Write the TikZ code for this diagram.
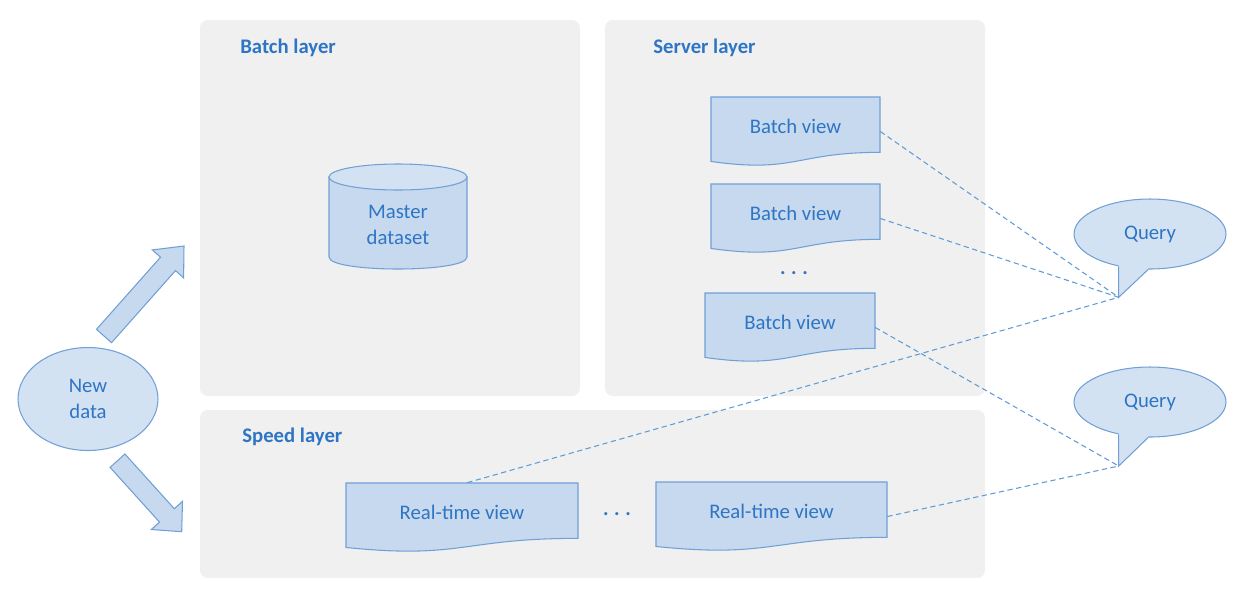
\documentclass[tikz,border=0pt]{standalone}
\usepackage{fontspec}
\setmainfont{Carlito}
\usetikzlibrary{shapes.geometric}
\definecolor{panelc}{RGB}{240,240,240}
\definecolor{boxfill}{RGB}{198,217,238}
\definecolor{callfill}{RGB}{211,226,242}
\definecolor{linec}{RGB}{112,160,214}
\definecolor{txtc}{RGB}{46,117,196}
\definecolor{dashc}{RGB}{95,155,215}
\def\pxl{0.5690551pt}
\tikzset{
  panel/.style={fill=panelc, rounded corners=4.5pt},
  docfill/.style={fill=boxfill, draw=linec, line width=0.6pt},
  txt/.style={text=txtc, font=\fontsize{11.8}{14.6}\selectfont, align=center, inner sep=0pt},
  ltxt/.style={text=txtc, font=\fontsize{11.8}{14.6}\selectfont\bfseries, anchor=west, inner sep=0pt},
  callout/.style={ellipse, fill=callfill, draw=linec, line width=0.6pt, text=txtc, align=center,
     font=\fontsize{11.8}{14.6}\selectfont, inner sep=0pt},
  dashline/.style={draw=dashc, line width=0.6pt, dash pattern=on 3pt off 2pt},
  blockarrow/.style={fill=boxfill, draw=linec, line width=0.6pt, line join=miter}
}
\newcommand\docview[6]{%
  \pgfmathsetmacro\dvr{#2+#4}%
  \pgfmathsetmacro\dvm{#2+0.5*#4}%
  \pgfmathsetmacro\dvyr{#3+0.802*#5}%
  \pgfmathsetmacro\dvyc{#3+1.1075*#5}%
  \pgfmathsetmacro\dvyl{#3+0.934*#5}%
  \pgfmathsetmacro\dvyt{#3+0.42*#5}%
  \pgfmathsetmacro\dvyn{#3+0.5*#5}%
  \filldraw[docfill] (#2,#3) -- (\dvr,#3) -- (\dvr,\dvyr) .. controls (\dvm,\dvyr) and (\dvm,\dvyc) .. (#2,\dvyl) -- cycle;
  \node[minimum width=#4*\pxl, minimum height=#5*\pxl, inner sep=0pt] (#1) at (\dvm,\dvyn) {};
  \node[txt] (#1t) at (\dvm,\dvyt) {#6};
}
\begin{document}
\begin{tikzpicture}[x=0.02cm, y=-0.02cm]
\useasboundingbox (0,0) rectangle (1247,606);
% panels
\fill[panel] (200,20) rectangle (580,396);
\fill[panel] (605,20) rectangle (985,396);
\fill[panel] (200,410) rectangle (985,578);
\node[ltxt] (bl) at (240,48) {Batch layer};
\node[ltxt] (sl) at (653,48) {Server layer};
\node[ltxt] (spl) at (242,437) {Speed layer};

% master dataset cylinder
\filldraw[docfill] (329,177) -- (329,257) .. controls (329,273) and (467,273) .. (467,257) -- (467,177) -- cycle;
\filldraw[fill=callfill, draw=linec, line width=0.6pt] (398,177) ellipse [x radius=69, y radius=13];
\node[txt] (md) at (398,225) {Master\\dataset};

% batch views
\docview{bv1}{711}{97}{169}{69}{Batch view}
\docview{bv2}{711}{184}{169}{69}{Batch view}
\docview{bv3}{705}{293}{170}{69}{Batch view}
\node[txt, anchor=base] (bvdots) at (794,274) {\textbf{.\hspace{3.2pt}.\hspace{3.2pt}.}};

% real-time views
\docview{rt1}{346}{483}{232}{69}{Real-time view}
\docview{rt2}{656}{482}{231}{69}{Real-time view}
\node[txt, anchor=base] (rtdots) at (617,515) {\textbf{.\hspace{3.2pt}.\hspace{3.2pt}.}};

% new data
\node[callout, minimum width=140*\pxl, minimum height=103*\pxl] (nd) at (88,399) {New\\data};

% block arrows
\filldraw[blockarrow] (111.5,342.7) -- (175.5,270.6) -- (183.6,277.9) -- (184,246) -- (152.4,249.9) -- (160.5,257.2) -- (96.5,329.3) -- cycle;
\filldraw[blockarrow] (110.1,467.4) -- (159.5,522.1) -- (151.3,529.5) -- (181.7,531.7) -- (182.5,501.3) -- (174.3,508.7) -- (124.9,454) -- cycle;

% query callouts
\node[callout, minimum width=152*\pxl, minimum height=70*\pxl] (q1) at (1150,234) {Query};
\coordinate (q1tip) at (1118.7,297.3);
\fill[callfill] (q1.226) -- (q1tip) -- (q1.267) -- ([yshift=4pt]q1.267) -- ([yshift=4pt]q1.226) -- cycle;
\draw[linec, line width=0.6pt] (q1.226) -- (q1tip) -- (q1.267);

\node[callout, minimum width=152*\pxl, minimum height=70*\pxl] (q2) at (1150,402) {Query};
\coordinate (q2tip) at (1118.7,466);
\fill[callfill] (q2.226) -- (q2tip) -- (q2.267) -- ([yshift=4pt]q2.267) -- ([yshift=4pt]q2.226) -- cycle;
\draw[linec, line width=0.6pt] (q2.226) -- (q2tip) -- (q2.267);

% dashed connectors
\draw[dashline] (bv1.east) -- (q1tip);
\draw[dashline] (bv2.east) -- (q1tip);
\draw[dashline] ([xshift=3pt]rt1.north) -- (q1tip);
\draw[dashline] (bv3.east) -- (q2tip);
\draw[dashline] (rt2.east) -- (q2tip);
\end{tikzpicture}
\end{document}
